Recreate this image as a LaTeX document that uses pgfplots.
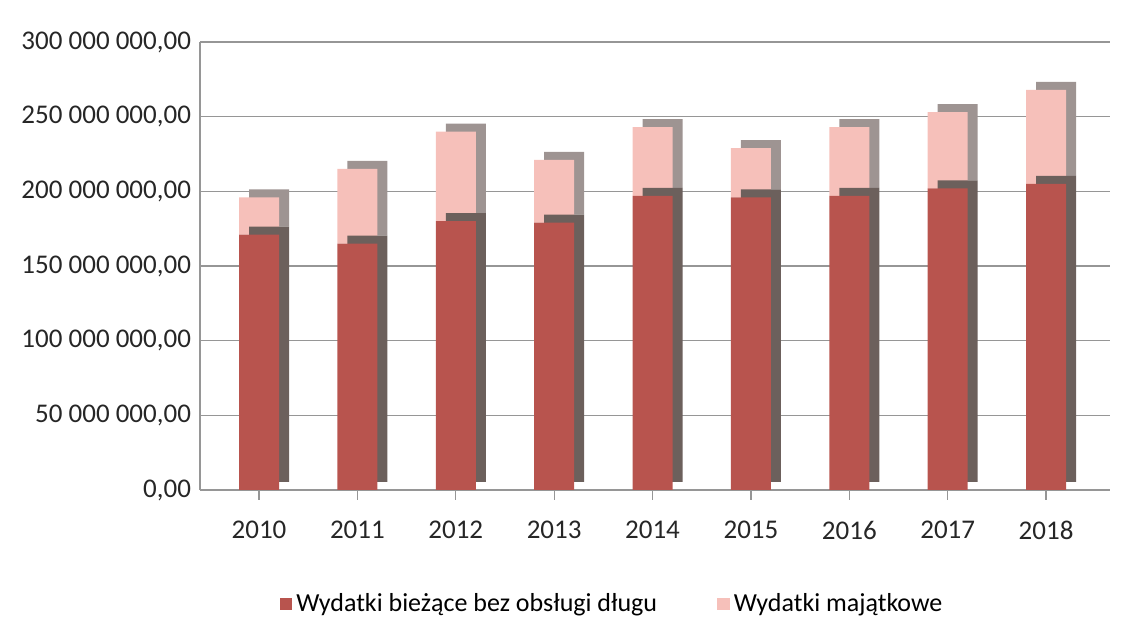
\documentclass[border=0pt]{standalone}
\usepackage{pgfplots}
\pgfplotsset{compat=1.18}
\usepackage{pgfplotstable}
\usepackage{fontspec}
\setmainfont{Carlito}
\definecolor{darkred}{RGB}{184,84,78}
\definecolor{pinkc}{RGB}{246,192,186}
\definecolor{darkside}{RGB}{108,96,92}
\definecolor{pinkside}{RGB}{158,148,146}
\definecolor{gridc}{RGB}{150,150,150}
\pgfplotstableread{
x year cur maj
0 2010 171 25
1 2011 165 50
2 2012 180 60
3 2013 179 42
4 2014 197 46
5 2015 196 33
6 2016 197 46
7 2017 202 51
8 2018 205 63
}\data
\begin{document}
\begin{tikzpicture}[x=1pt,y=1pt]
\useasboundingbox (0,0) rectangle (565,312.5);
\begin{axis}[
  at={(100pt,67.5pt)}, anchor=south west,
  scale only axis, width=455pt, height=224pt,
  ybar stacked, bar width=20pt,
  xmin=-0.6, xmax=8.65, ymin=0, ymax=300,
  xtick=data, xticklabels={2010,2011,2012,2013,2014,2015,2016,2017,2018},
  ytick={0,50,100,150,200,250,300},
  yticklabels={{0,00},{50 000 000,00},{100 000 000,00},{150 000 000,00},{200 000 000,00},{250 000 000,00},{300 000 000,00}},
  ymajorgrids, grid style={gridc, line width=0.6pt},
  axis x line*=bottom, axis y line*=left,
  axis line style={gridc, line width=0.6pt},
  x axis line style={-}, y axis line style={-},
  xtick style={gridc, line width=0.6pt}, xtick align=outside, major tick length=5pt,
  ytick style={draw=none},
  tick label style={font=\fontsize{13.5}{15}\selectfont, text=black!85},
  xticklabel style={yshift=-7pt},
  yticklabel style={xshift=-1pt},
  legend style={at={(206.5pt,-57pt)}, anchor=center, draw=none, fill=none,
    legend columns=2, font=\fontsize{13}{15}\selectfont,
    /tikz/every even column/.append style={column sep=28pt}},
  legend image code/.code={\fill[#1] (0pt,-3.2pt) rectangle (6.4pt,3.2pt);},
]
\addplot[fill=darkred, draw=none, forget plot,
  preaction={fill=darkside, transform canvas={shift={(5pt,4pt)}}}]
  table[x=x, y=cur] {\data};
\addplot[fill=pinkc, draw=none, forget plot,
  preaction={fill=pinkside, transform canvas={shift={(5pt,4pt)}}}]
  table[x=x, y=maj] {\data};
\addlegendimage{fill=darkred, draw=none}
\addlegendentry{Wydatki bieżące bez obsługi długu}
\addlegendimage{fill=pinkc, draw=none}
\addlegendentry{Wydatki majątkowe}
\end{axis}
\end{tikzpicture}
\end{document}
